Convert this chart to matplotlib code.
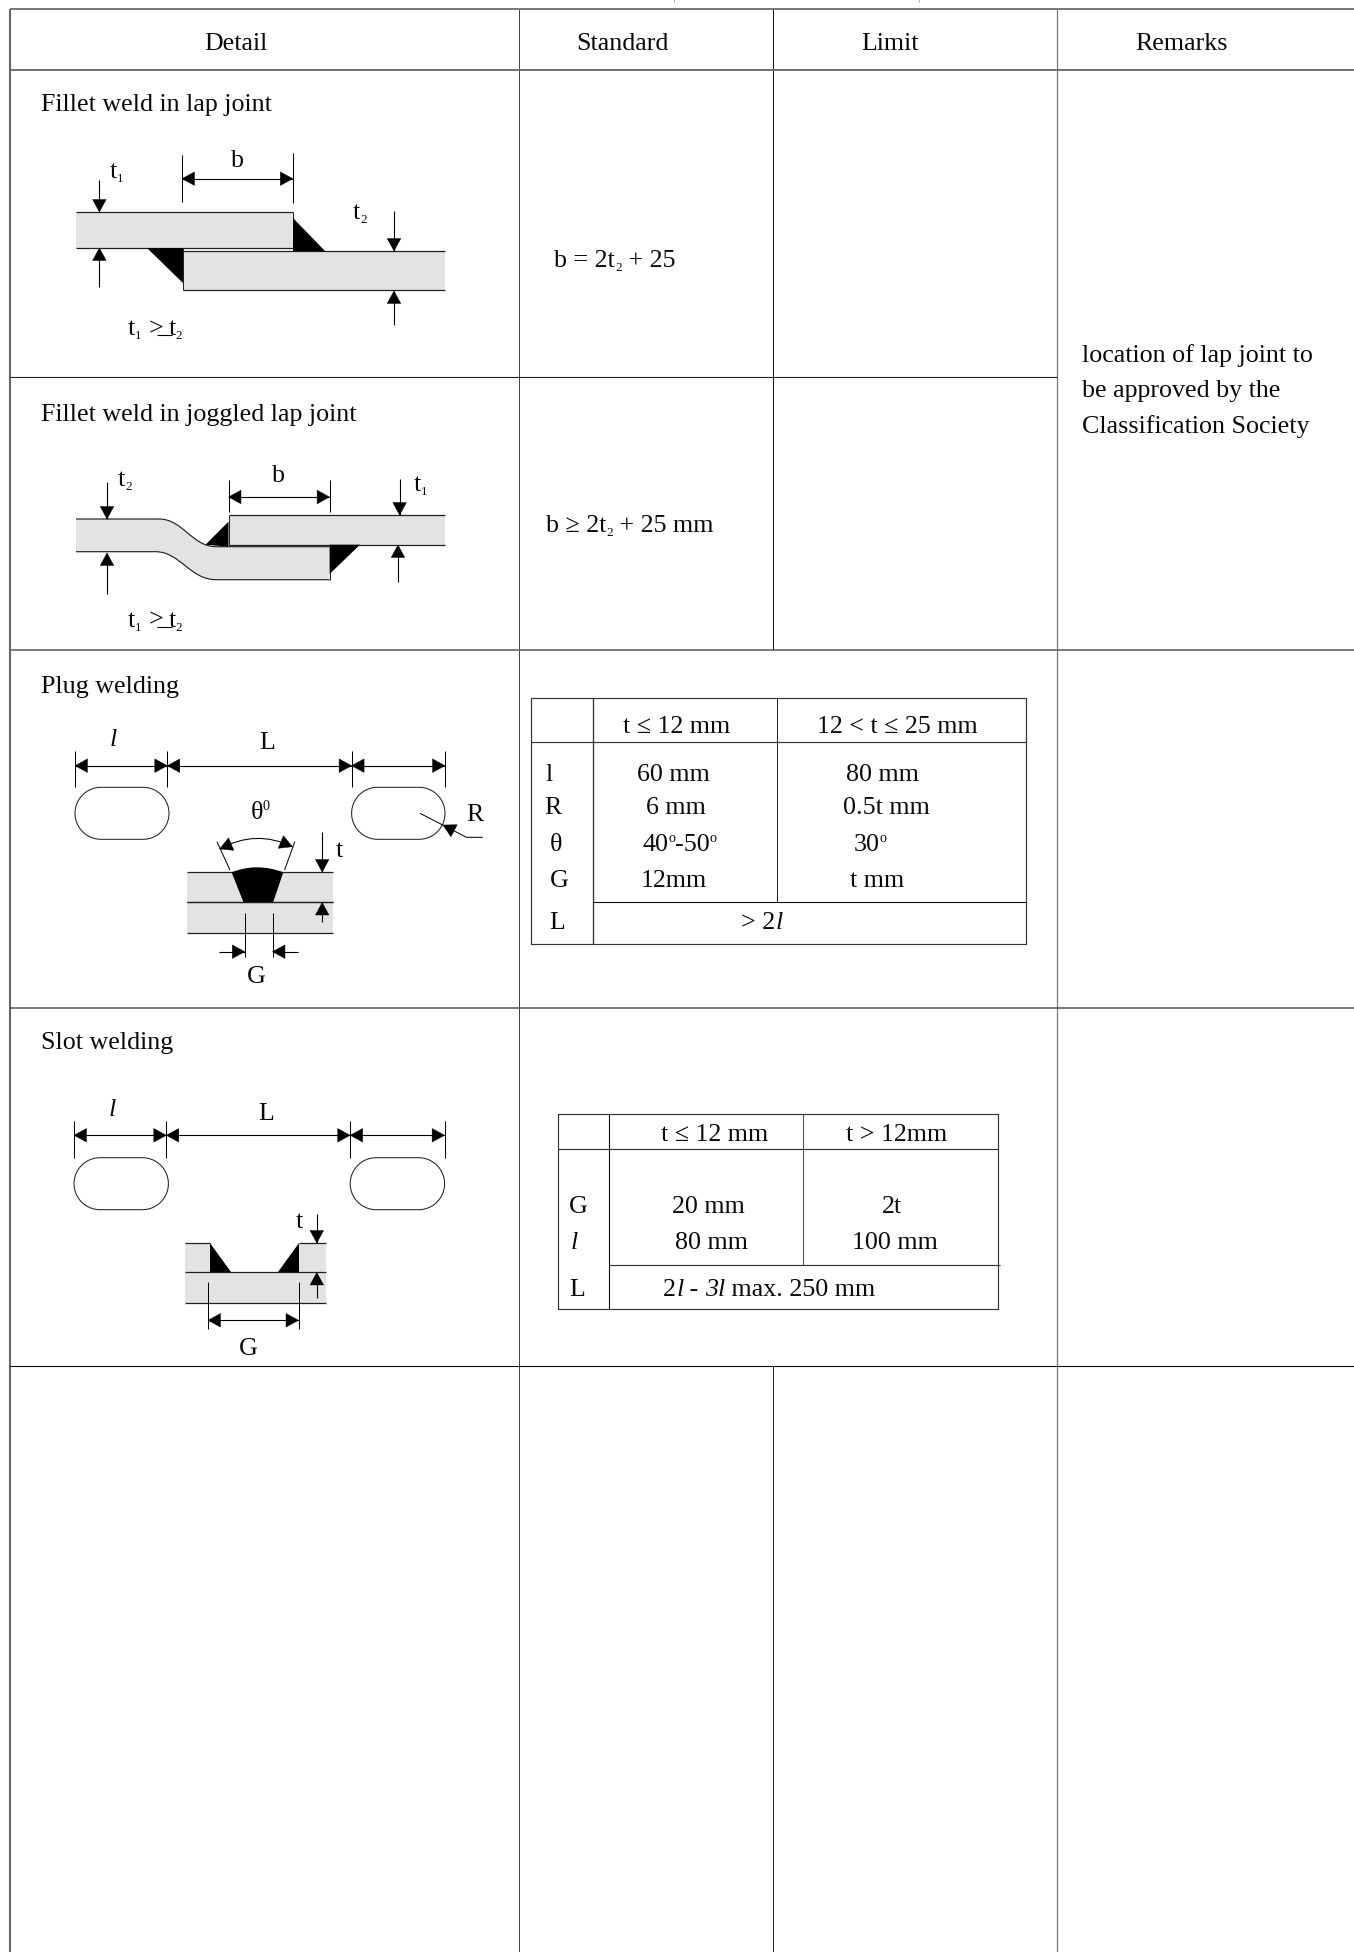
import numpy as np
import matplotlib
matplotlib.use('Agg')
import matplotlib.pyplot as plt
from matplotlib.patches import Polygon, PathPatch
from matplotlib.path import Path

plt.rcParams['font.family'] = ['Liberation Serif', 'DejaVu Serif']

W, H = 1354, 1952
FS = 18.7
GREY = '#e3e3e3'
DARK = '#222222'

# outer table grid, in pixels of the page
col_x = [9.5, 519, 773, 1056.6]
row_y = [9, 69.7, 377, 650, 1007.7, 1366]

headers = ['Detail', 'Standard', 'Limit', 'Remarks']
header_x = [236, 622.5, 890, 1182]
titles = ['Fillet weld in lap joint', 'Fillet weld in joggled lap joint',
          'Plug welding', 'Slot welding']
title_y = [110.7, 420.7, 693.3, 1049.3]
remarks = ['location of lap joint to', 'be approved by the', 'Classification Society']
remarks_y = [361.7, 397.3, 433.3]

# plug welding table
plug_labels = ['l', 'R', 'θ', 'G', 'L']
plug_label_x = [546, 544, 550, 550, 549]
plug_y = [781, 814.3, 851, 887.3, 929]
plug_col1 = [['60 mm'], ['6 mm'], ['40', ('o', 'sup'), '-50', ('o', 'sup')], ['12mm']]
plug_col1_x = [673, 676, 679.5, 674]
plug_col2 = [['80 mm'], ['0.5t mm'], ['30', ('o', 'sup')], ['t mm']]
plug_col2_x = [882.5, 886, 870, 877]

# slot welding table
slot_rows = ['20 mm', '80 mm']
slot_rows2 = ['2t', '100 mm']
slot_y = [1213.3, 1249.3, 1296]
slot_col1_x = [708.8, 711.2]
slot_col2_x = [892, 895.3]

fig = plt.figure(figsize=(W / 100, H / 100), dpi=100, facecolor='white')
ax = fig.add_axes([0, 0, 1, 1])
ax.set_xlim(0, W)
ax.set_ylim(H, 0)
ax.axis('off')
renderer = fig.canvas.get_renderer()


def line(xs, ys, color='black', lw=0.72, z=3):
    ax.plot(xs, ys, color=color, lw=lw, solid_capstyle='butt', zorder=z)


def width(s, **kw):
    a = ax.text(0, 0, s + '|', **kw)
    b = ax.text(0, 0, '|', **kw)
    w = a.get_window_extent(renderer).width - b.get_window_extent(renderer).width
    a.remove()
    b.remove()
    return w


def run(x, y, parts, ha='left', size=FS):
    # text pieces set one after the other, with small sub and superscripts
    if isinstance(parts, str):
        parts = [parts]
    items = []
    for p in parts:
        s, kind = (p, '') if isinstance(p, str) else p
        kw = {'fontsize': size, 'color': '#0a0a0a'}
        dy = 0
        if kind == 'i':
            kw['style'] = 'italic'
        elif kind == 'sub':
            kw['fontsize'] = size * 0.5
            dy = 4
        elif kind == 'sup':
            kw['fontsize'] = size * 0.55
            dy = -9
        items.append((s, kw, dy, width(s, **kw)))
    if ha == 'center':
        x -= sum(i[3] for i in items) / 2
    for s, kw, dy, w in items:
        ax.text(x, y + dy, s, ha='left', va='baseline', **kw)
        x += w


def head(x1, y1, x0, y0, length=12.5, half=6.8):
    # solid arrow head with its tip on (x1, y1), coming from (x0, y0)
    d = np.array([x1 - x0, y1 - y0], dtype=float)
    d /= np.hypot(*d)
    n = np.array([-d[1], d[0]])
    tip = np.array([x1, y1])
    base = tip - d * length
    ax.add_patch(Polygon([tip, base + n * half, base - n * half], closed=True,
                         fc='black', ec='black', lw=0.3, zorder=5))


def arrow(x0, y0, x1, y1):
    line([x0, x1], [y0, y1], lw=0.8)
    head(x1, y1, x0, y0)


def dim(x0, x1, y):
    line([x0, x1], [y, y], lw=0.8)
    head(x0, y, x1, y)
    head(x1, y, x0, y)


def plate(x0, x1, y0, y1, edges=(True, True)):
    ax.add_patch(Polygon([(x0, y0), (x1, y0), (x1, y1), (x0, y1)], closed=True,
                         fc=GREY, ec='none', zorder=1))
    if edges[0]:
        line([x0, x1], [y0, y0], color=DARK, lw=0.9)
    if edges[1]:
        line([x0, x1], [y1, y1], color=DARK, lw=0.9)


def weld(pts):
    ax.add_patch(Polygon(pts, closed=True, fc='black', ec='none', zorder=4))


def slot(x0, x1, y0, y1):
    # two half circles joined by straight edges
    r = (y1 - y0) / 2
    a = np.linspace(np.pi / 2, 3 * np.pi / 2, 40)
    left = np.column_stack([x0 + r + r * np.cos(a), y0 + r + r * np.sin(a)])
    right = np.column_stack([x1 - r - r * np.cos(a), y0 + r - r * np.sin(a)])
    ax.add_patch(Polygon(np.vstack([left, right]), closed=True,
                         fc='white', ec='#222222', lw=0.75, zorder=2))


def t_rel(x, y):
    # t1 >= t2 note, the rule sits under the > and runs into the t
    run(x, y, ['t', ('1', 'sub')])
    run(x + 20.5, y, '>')
    run(x + 40.5, y, ['t', ('2', 'sub')])
    line([x + 28.5, x + 44], [y, y], lw=0.8)


# outer grid
line([col_x[0], col_x[0]], [row_y[0], H], color='#666666', lw=1.5)
line([col_x[1], col_x[1]], [row_y[0], H], color='#444444')
line([col_x[2], col_x[2]], [row_y[0], row_y[3]], color='#111111')
line([col_x[2], col_x[2]], [row_y[5], H], color='#222222')
line([col_x[3], col_x[3]], [row_y[0], H], color='#777777', lw=0.9)
line([col_x[0], W], [row_y[0], row_y[0]], color='#777777', lw=1.4)
line([col_x[0], W], [row_y[1], row_y[1]], color='#666666', lw=1.3)
line([col_x[0], col_x[3]], [row_y[2], row_y[2]], color='#222222', lw=0.8)
line([col_x[0], W], [row_y[3], row_y[3]], color='#666666', lw=1.2)
line([col_x[0], W], [row_y[4], row_y[4]], color='#555555', lw=1.1)
line([col_x[0], W], [row_y[5], row_y[5]], color='#111111', lw=0.8)

# bits of clipped text on the top edge
line([674, 674], [0, 1.5], color='#999999')
line([919, 919], [0, 1.5], color='#999999')

for s, x in zip(headers, header_x):
    run(x, 50.5, s, ha='center')
for s, y in zip(titles, title_y):
    run(41, y, s)
for s, y in zip(remarks, remarks_y):
    run(1081.5, y, s)

run(554.5, 266.7, ['b = 2t', ('2', 'sub'), ' + 25'])
run(546, 531.7, ['b ≥ 2t', ('2', 'sub'), ' + 25 mm'])

# fillet weld in lap joint
plate(76, 292.8, 212, 247.7)
plate(183, 445, 251, 290)
line([292.8, 292.8], [212, 251], color=DARK)
line([183, 183], [247.7, 290], color=DARK)
weld([(292.8, 218), (292.8, 251), (325, 251)])
weld([(146.7, 247.7), (183, 247.7), (183, 283)])
line([182, 182], [155, 202])
line([292.8, 292.8], [153, 203])
dim(182, 292.8, 178.7)
run(237, 167, 'b', ha='center')
arrow(99.4, 180, 99.4, 212)
arrow(99.4, 287, 99.4, 248)
run(109.5, 178, ['t', ('1', 'sub')])
run(353, 219, ['t', ('2', 'sub')])
arrow(394, 211, 394, 251)
arrow(394, 325, 394, 291)
t_rel(128, 335)

# fillet weld in joggled lap joint
plate(228.5, 445, 515.3, 544.7)
top_edge = [(76, 519), (159, 519), (183, 519), (192, 546.7), (216, 546.7), (329.6, 546.7)]
low_edge = [(329.6, 579.7), (216, 579.7), (190, 579.7), (180, 551.7), (155.5, 551.7), (76, 551.7)]
codes = [Path.MOVETO, Path.LINETO, Path.CURVE4, Path.CURVE4, Path.CURVE4, Path.LINETO]
ax.add_patch(PathPatch(Path(top_edge + low_edge,
                            codes + [Path.LINETO, Path.LINETO, Path.CURVE4, Path.CURVE4, Path.CURVE4, Path.LINETO]),
                       fc=GREY, ec='none', zorder=1))
ax.add_patch(PathPatch(Path(top_edge, codes), fc='none', ec=DARK, lw=0.85, zorder=3))
ax.add_patch(PathPatch(Path(low_edge, codes), fc='none', ec=DARK, lw=0.85, zorder=3))
line([329.6, 329.6], [546.7, 579.7], color=DARK)
line([228.5, 228.5], [515.3, 544.7], color=DARK)
weld([(205.5, 544.7), (228.5, 521.7), (228.5, 546.7)])
weld([(329.6, 544.7), (360, 544.7), (329.6, 574)])
line([228.5, 228.5], [480, 511.7])
line([329.6, 329.6], [480, 511.7])
dim(228.5, 329.6, 497)
run(278, 482, 'b', ha='center')
run(118, 486, ['t', ('2', 'sub')])
arrow(107, 482, 107, 519)
arrow(107, 594, 107, 553)
run(414, 491, ['t', ('1', 'sub')])
arrow(399.6, 479, 399.6, 515)
arrow(398, 581.7, 398, 545)
t_rel(128, 626.7)

# plug welding
for x0, x1 in [(75, 169), (351.6, 445)]:
    slot(x0, x1, 787.3, 839.3)
for x in [75, 167.3, 351.6, 445]:
    line([x, x], [751, 787])
dim(75, 167.3, 765.7)
dim(167.3, 351.6, 765.7)
dim(351.6, 445, 765.7)
run(113, 746, [('l', 'i')], ha='center')
run(267, 749, 'L', ha='center')
run(260, 819, ['θ', ('0', 'sup')], ha='center')
run(475, 821, 'R', ha='center')
line([420, 466.5, 482.8], [813.3, 837.3, 837.3])
head(443, 825, 466.5, 837.3)
plate(186.6, 332.7, 872.3, 902)
plate(186.6, 332.7, 902, 933.3)
ax.add_patch(PathPatch(Path([(231.6, 872.3), (257, 862.3), (283.3, 872.3),
                             (273.2, 902), (243.4, 902), (231.6, 872.3)],
                            [Path.MOVETO, Path.CURVE3, Path.CURVE3, Path.LINETO, Path.LINETO, Path.CLOSEPOLY]),
                       fc='black', ec='none', zorder=4))
line([229.9, 217], [870, 841.7])
line([284.6, 294.8], [870, 841.7])
ax.add_patch(PathPatch(Path([(219.7, 849), (256, 829), (292.4, 846.7)], [Path.MOVETO, Path.CURVE3, Path.CURVE3]),
                       fc='none', ec='black', lw=0.75, zorder=3))
head(219.7, 849, 236, 842)
head(292.4, 846.7, 276, 840)
arrow(322.2, 831.7, 322.2, 872)
arrow(322.2, 921.7, 322.2, 902.5)
run(339.5, 857, 't', ha='center')
line([244.8, 244.8], [913.3, 956.7])
line([272.5, 272.5], [913.3, 956.7])
arrow(219, 951.7, 244.8, 951.7)
arrow(298, 951.7, 272.5, 951.7)
run(256, 983, 'G', ha='center')

# slot welding
for x0, x1 in [(74, 168.4), (350.2, 444.6)]:
    slot(x0, x1, 1157.7, 1209.7)
for x in [74, 166.3, 350.2, 444.6]:
    line([x, x], [1121, 1157.7])
dim(74, 166.3, 1135.3)
dim(166.3, 350.2, 1135.3)
dim(350.2, 444.6, 1135.3)
run(112, 1115.5, [('l', 'i')], ha='center')
run(266, 1119.5, 'L', ha='center')
plate(185.3, 209.6, 1243, 1272.3, edges=(True, False))
plate(299.2, 325.6, 1243, 1272.3, edges=(True, False))
plate(185.3, 325.6, 1272.3, 1303)
weld([(209.6, 1243), (209.6, 1272.3), (230.6, 1272.3)])
weld([(299.2, 1243), (299.2, 1272.3), (277.9, 1272.3)])
run(299.5, 1228, 't', ha='center')
arrow(316.8, 1213.7, 316.8, 1243)
arrow(316.8, 1297.7, 316.8, 1272.5)
line([208, 208], [1281.7, 1329])
line([298.5, 298.5], [1281.7, 1329])
dim(208, 298.5, 1320.3)
run(248.5, 1355, 'G', ha='center')

# plug welding table
line([530.7, 1025.5, 1025.5, 530.7, 530.7], [698.3, 698.3, 944.3, 944.3, 698.3], color='#333333', lw=0.85)
line([593, 593], [698.3, 944.3], color='#333333', lw=0.95)
line([777.2, 777.2], [698.3, 902.3], color='#222222')
line([530.7, 1025.5], [742, 742], color='#333333', lw=0.85)
line([593, 1025.5], [902.3, 902.3], color='#111111', lw=0.8)
run(677, 733, 't ≤ 12 mm', ha='center')
run(897, 733, '12 < t ≤ 25 mm', ha='center')
for s, x, y in zip(plug_labels, plug_label_x, plug_y):
    run(x, y, s)
for p, x, y in zip(plug_col1, plug_col1_x, plug_y):
    run(x, y, p, ha='center')
for p, x, y in zip(plug_col2, plug_col2_x, plug_y):
    run(x, y, p, ha='center')
run(762, 929, ['> 2', ('l', 'i')], ha='center')

# slot welding table
line([558, 998.3, 998.3, 558, 558], [1114, 1114, 1309.3, 1309.3, 1114], color='#333333', lw=0.85)
line([609.3, 609.3], [1114, 1309.3], color='#111111', lw=0.8)
line([802.7, 802.7], [1114, 1264.7], color='#555555', lw=0.8)
line([558, 998.3], [1149.3, 1149.3], color='#333333', lw=0.85)
line([609.3, 999.5], [1264.7, 1264.7], color='#333333', lw=0.85)
run(714.7, 1141, 't ≤ 12 mm', ha='center')
run(897, 1141, 't > 12mm', ha='center')
run(569.3, slot_y[0], 'G')
run(570.7, slot_y[1], [('l', 'i')])
run(569.3, slot_y[2], 'L')
for s, x, y in zip(slot_rows, slot_col1_x, slot_y):
    run(x, y, s, ha='center')
for s, x, y in zip(slot_rows2, slot_col2_x, slot_y):
    run(x, y, s, ha='center')
run(663.3, slot_y[2], ['2', ('l', 'i'), ' - ', ('3l', 'i'), ' max. 250 mm'])

fig.savefig('out.png', dpi=100)
